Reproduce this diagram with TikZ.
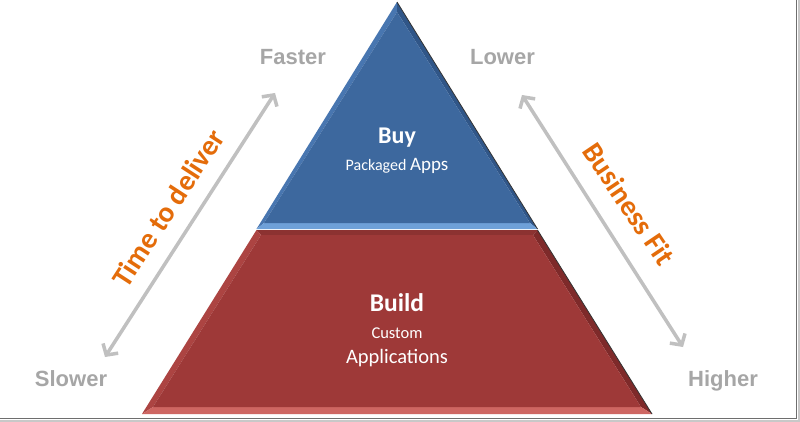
\documentclass[tikz,border=0pt]{standalone}
\usepackage{fontspec}
\usetikzlibrary{arrows.meta}
\newfontfamily\arialfont{Liberation Sans}
\newfontfamily\calfont{Carlito}
\definecolor{lblgray}{RGB}{166,166,166}
\definecolor{arrgray}{RGB}{192,192,192}
\definecolor{orng}{RGB}{228,108,10}
\definecolor{bluemain}{RGB}{61,104,158}
\definecolor{bluebot}{RGB}{110,160,216}
\definecolor{blueleft}{RGB}{72,118,176}
\definecolor{blueright}{RGB}{48,86,136}
\definecolor{redmain}{RGB}{158,57,56}
\definecolor{redbot}{RGB}{206,102,98}
\definecolor{redleft}{RGB}{172,68,66}
\definecolor{redright}{RGB}{126,42,42}
\definecolor{redtop}{RGB}{140,50,49}
\definecolor{framedark}{RGB}{110,110,110}
\definecolor{framelight}{RGB}{200,200,200}
\tikzset{
  endlbl/.style={text=lblgray, font=\arialfont\bfseries\fontsize{22}{26}\selectfont, anchor=base, inner sep=0pt},
  axislbl/.style={text=orng, font=\calfont\bfseries\fontsize{29}{34}\selectfont, inner sep=0pt},
  pyrtxt/.style={text=white, anchor=base, inner sep=0pt},
  twoway/.style={draw=arrgray, line width=3.5pt, {Straight Barb[length=8pt,width=18pt]}-{Straight Barb[length=8pt,width=18pt]}},
}
\begin{document}
\begin{tikzpicture}[x=1pt,y=-1pt]
\useasboundingbox (0,0) rectangle (800,422);
\fill[white] (0,0) rectangle (800,422);
% frame shadow
\draw[framelight, line width=1.5pt] (799,0) -- (799,421) -- (0,421);
\draw[framedark, line width=1.8pt] (796.5,0) -- (796.5,418.5) -- (0,418.5);

% Blue triangle (Buy)
\coordinate (A) at (397,2);
\coordinate (BL) at (256.5,229);
\coordinate (BR) at (537.5,229);
\coordinate (iA) at (397,12);
\coordinate (iBL) at (264,223);
\coordinate (iBR) at (530,223);
\fill[blueleft] (A) -- (BL) -- (iBL) -- (iA) -- cycle;
\fill[blueright] (A) -- (BR) -- (iBR) -- (iA) -- cycle;
\fill[bluebot] (BL) -- (BR) -- (iBR) -- (iBL) -- cycle;
\fill[bluemain] (iA) -- (iBL) -- (iBR) -- cycle;
\draw[black!80, line width=0.8pt] (A) -- (BR);

% Red trapezoid (Build)
\coordinate (TL) at (256.5,230);
\coordinate (TR) at (537.5,230);
\coordinate (RBR) at (652,414);
\coordinate (RBL) at (142,414);
\coordinate (iTL) at (261,235);
\coordinate (iTR) at (533,235);
\coordinate (iRBR) at (641,407);
\coordinate (iRBL) at (153,407);
\fill[redtop] (TL) -- (TR) -- (iTR) -- (iTL) -- cycle;
\fill[redleft] (TL) -- (RBL) -- (iRBL) -- (iTL) -- cycle;
\fill[redright] (TR) -- (RBR) -- (iRBR) -- (iTR) -- cycle;
\fill[redbot] (RBL) -- (RBR) -- (iRBR) -- (iRBL) -- cycle;
\fill[redmain] (iTL) -- (iTR) -- (iRBR) -- (iRBL) -- cycle;
\draw[black!80, line width=0.8pt] (TR) -- (RBR);

% Pyramid texts
\node[pyrtxt, font=\calfont\bfseries\fontsize{24}{28}\selectfont] (buy) at (397,144) {Buy};
\node[pyrtxt] (pkg) at (397,171) {\calfont\fontsize{16}{20}\selectfont Packaged \fontsize{19}{22}\selectfont Apps};
\node[pyrtxt, font=\calfont\bfseries\fontsize{25.5}{30}\selectfont] (build) at (397,311) {Build};
\node[pyrtxt, font=\calfont\fontsize{16.5}{20}\selectfont] (custom) at (397,338.5) {Custom};
\node[pyrtxt, font=\calfont\fontsize{20.5}{24}\selectfont] (apps) at (397,363) {Applications};

% End labels
\node[endlbl] (faster) at (293,64.5) {Faster};
\node[endlbl] (lower) at (502.5,64.5) {Lower};
\node[endlbl] (slower) at (71,386) {Slower};
\node[endlbl] (higher) at (723,386) {Higher};

% Arrows
\coordinate (lt) at (275,93);
\coordinate (lb) at (105,357);
\coordinate (rt) at (522,95);
\coordinate (rb) at (683,347);
\draw[twoway] (lb) -- (lt);
\draw[twoway] (rt) -- (rb);

% Axis labels
\node[axislbl, rotate=57] (time) at (168,208) {Time to deliver};
\node[axislbl, rotate=-56] (fit) at (629,204) {Business Fit};
\end{tikzpicture}
\end{document}
